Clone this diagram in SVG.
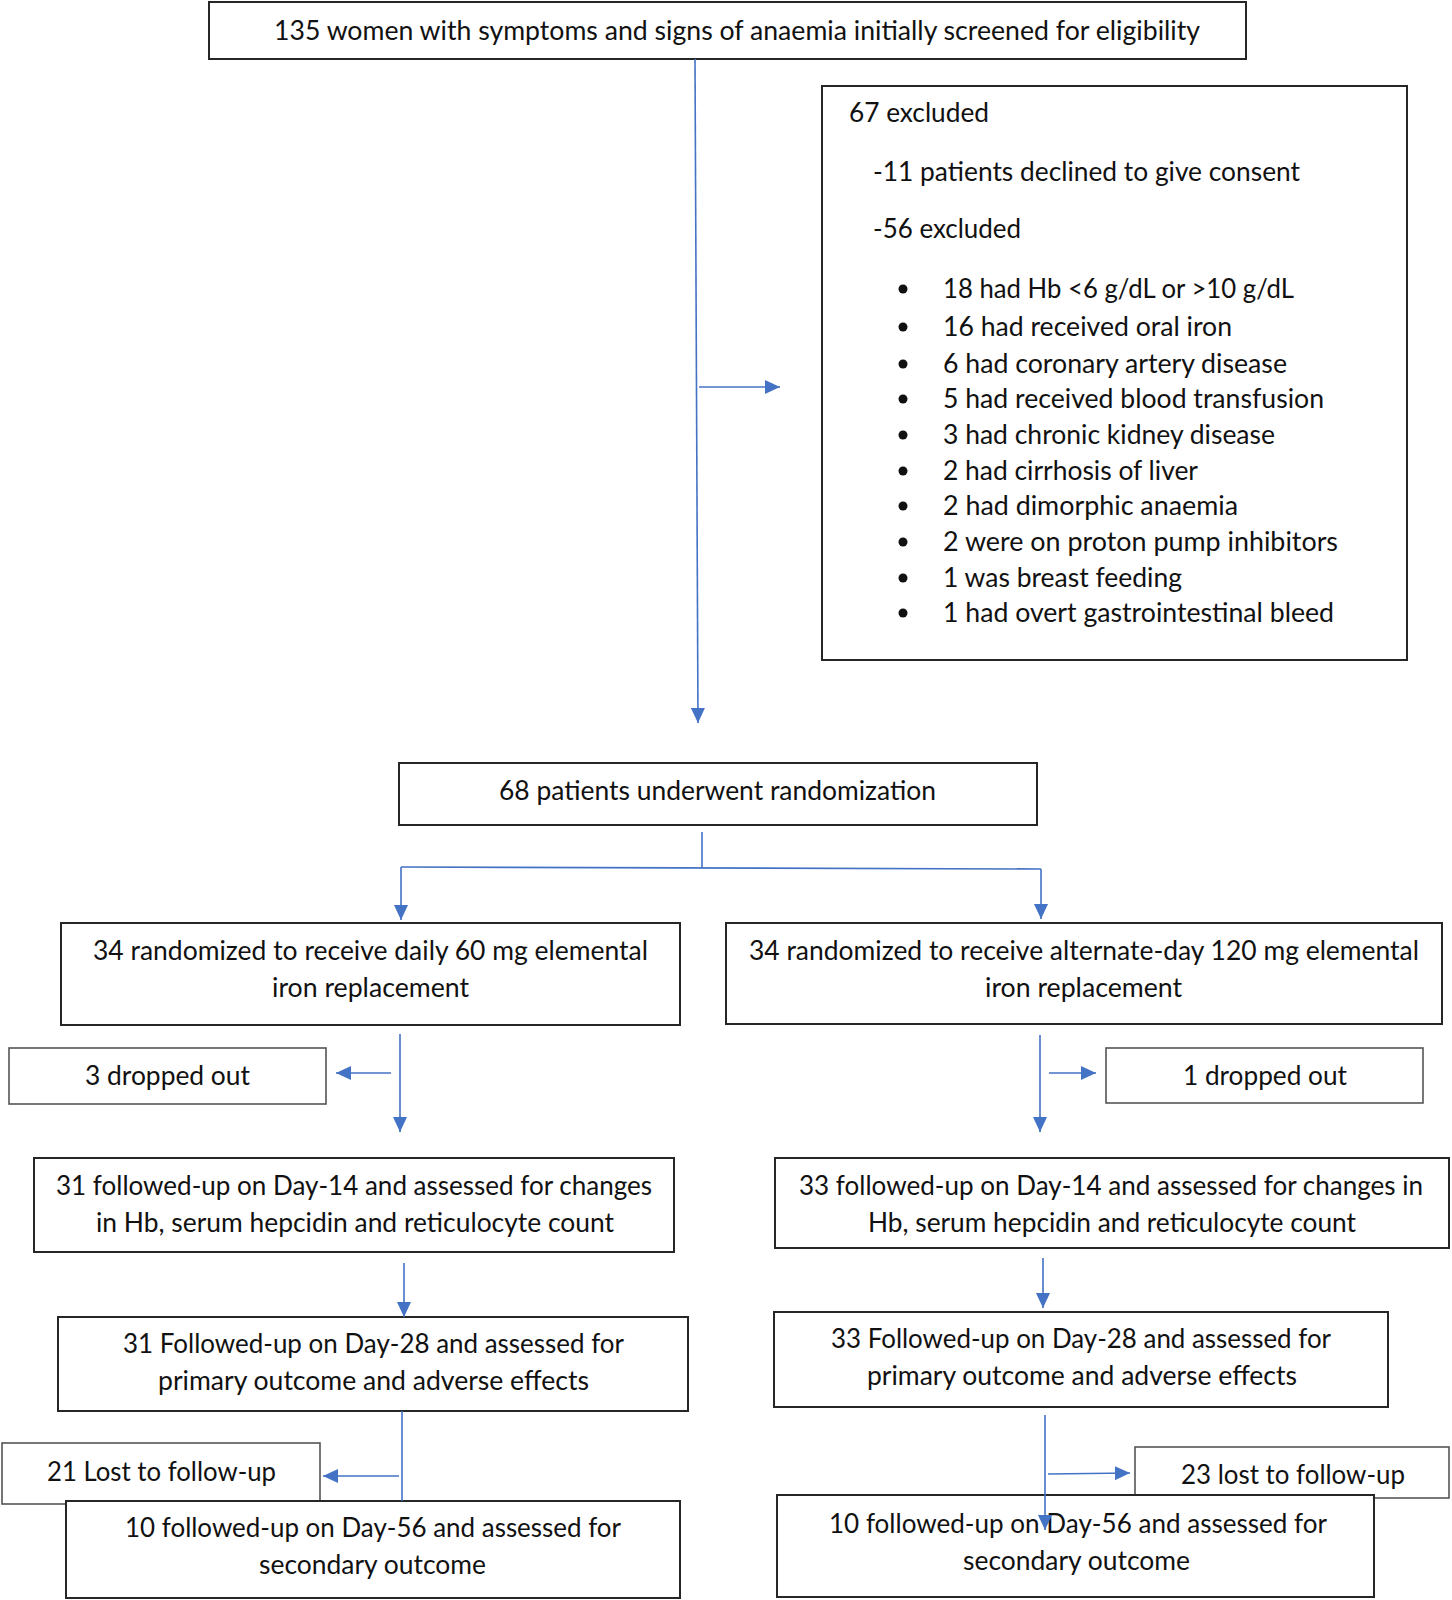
<svg xmlns="http://www.w3.org/2000/svg" width="1452" height="1600" viewBox="0 0 1452 1600">
<style>
  .bg{fill:#ffffff}
  .box{fill:#ffffff;stroke:#262626;stroke-width:2}
  .sbox{fill:#ffffff;stroke:#555555;stroke-width:1.6}
  text{font-family:Lato,"Liberation Sans",Arial,sans-serif;font-size:27px;fill:#111111}
  .c{fill:none;stroke:#4472C4;stroke-width:1.6}
  .dot{fill:#111111}
</style>
<defs>
  <marker id="ah" viewBox="0 0 10 10" refX="10" refY="5" markerWidth="15" markerHeight="14" markerUnits="userSpaceOnUse" orient="auto" preserveAspectRatio="none">
    <path d="M0,0 L10,5 L0,10 z" fill="#4472C4"/>
  </marker>
</defs>
<rect class="bg" x="0" y="0" width="1452" height="1600"/>

<g id="n-screened">
  <rect class="box" x="209" y="2" width="1037" height="57"/>
  <text x="274" y="40" textLength="926" lengthAdjust="spacingAndGlyphs">135 women with symptoms and signs of anaemia initially screened for eligibility</text>
</g>

<g id="n-excluded">
  <rect class="box" x="822" y="86" width="585" height="574"/>
  <text x="849" y="122" textLength="140" lengthAdjust="spacingAndGlyphs">67 excluded</text>
  <text x="873" y="181" textLength="427" lengthAdjust="spacingAndGlyphs">-11 patients declined to give consent</text>
  <text x="873" y="238" textLength="148" lengthAdjust="spacingAndGlyphs">-56 excluded</text>
  <circle class="dot" cx="903" cy="289" r="4.5"/>
  <text x="943" y="298" textLength="351" lengthAdjust="spacingAndGlyphs">18 had Hb &lt;6 g/dL or &gt;10 g/dL</text>
  <circle class="dot" cx="903" cy="327" r="4.5"/>
  <text x="943" y="336" textLength="289" lengthAdjust="spacingAndGlyphs">16 had received oral iron</text>
  <circle class="dot" cx="903" cy="364" r="4.5"/>
  <text x="943" y="373" textLength="344" lengthAdjust="spacingAndGlyphs">6 had coronary artery disease</text>
  <circle class="dot" cx="903" cy="399" r="4.5"/>
  <text x="943" y="408" textLength="381" lengthAdjust="spacingAndGlyphs">5 had received blood transfusion</text>
  <circle class="dot" cx="903" cy="435" r="4.5"/>
  <text x="943" y="444" textLength="332" lengthAdjust="spacingAndGlyphs">3 had chronic kidney disease</text>
  <circle class="dot" cx="903" cy="471" r="4.5"/>
  <text x="943" y="480" textLength="255" lengthAdjust="spacingAndGlyphs">2 had cirrhosis of liver</text>
  <circle class="dot" cx="903" cy="506" r="4.5"/>
  <text x="943" y="515" textLength="295" lengthAdjust="spacingAndGlyphs">2 had dimorphic anaemia</text>
  <circle class="dot" cx="903" cy="542" r="4.5"/>
  <text x="943" y="551" textLength="395" lengthAdjust="spacingAndGlyphs">2 were on proton pump inhibitors</text>
  <circle class="dot" cx="903" cy="578" r="4.5"/>
  <text x="943" y="587" textLength="239" lengthAdjust="spacingAndGlyphs">1 was breast feeding</text>
  <circle class="dot" cx="903" cy="613" r="4.5"/>
  <text x="943" y="622" textLength="391" lengthAdjust="spacingAndGlyphs">1 had overt gastrointestinal bleed</text>
</g>

<g id="n-randomized">
  <rect class="box" x="399" y="763" width="638" height="62"/>
  <text x="499" y="800" textLength="437" lengthAdjust="spacingAndGlyphs">68 patients underwent randomization</text>
</g>

<g id="n-daily">
  <rect class="box" x="61" y="923" width="619" height="102"/>
  <text x="93" y="960" textLength="555" lengthAdjust="spacingAndGlyphs">34 randomized to receive daily 60 mg elemental</text>
  <text x="272" y="997" textLength="197" lengthAdjust="spacingAndGlyphs">iron replacement</text>
</g>

<g id="n-alternate">
  <rect class="box" x="726" y="923" width="716" height="101"/>
  <text x="749" y="960" textLength="670" lengthAdjust="spacingAndGlyphs">34 randomized to receive alternate-day 120 mg elemental</text>
  <text x="985" y="997" textLength="197" lengthAdjust="spacingAndGlyphs">iron replacement</text>
</g>

<g id="n-drop-left">
  <rect class="sbox" x="9" y="1048" width="317" height="56"/>
  <text x="85" y="1085" textLength="165" lengthAdjust="spacingAndGlyphs">3 dropped out</text>
</g>

<g id="n-drop-right">
  <rect class="sbox" x="1106" y="1048" width="317" height="55"/>
  <text x="1183" y="1085" textLength="164" lengthAdjust="spacingAndGlyphs">1 dropped out</text>
</g>

<g id="n-day14-left">
  <rect class="box" x="34" y="1158" width="640" height="94"/>
  <text x="56" y="1195" textLength="596" lengthAdjust="spacingAndGlyphs">31 followed-up on Day-14 and assessed for changes</text>
  <text x="96" y="1232" textLength="518" lengthAdjust="spacingAndGlyphs">in Hb, serum hepcidin and reticulocyte count</text>
</g>

<g id="n-day14-right">
  <rect class="box" x="775" y="1158" width="674" height="90"/>
  <text x="799" y="1195" textLength="624" lengthAdjust="spacingAndGlyphs">33 followed-up on Day-14 and assessed for changes in</text>
  <text x="868" y="1232" textLength="488" lengthAdjust="spacingAndGlyphs">Hb, serum hepcidin and reticulocyte count</text>
</g>

<g id="n-day28-left">
  <rect class="box" x="58" y="1317" width="630" height="94"/>
  <text x="123" y="1353" textLength="501" lengthAdjust="spacingAndGlyphs">31 Followed-up on Day-28 and assessed for</text>
  <text x="158" y="1390" textLength="431" lengthAdjust="spacingAndGlyphs">primary outcome and adverse effects</text>
</g>

<g id="n-day28-right">
  <rect class="box" x="774" y="1312" width="614" height="95"/>
  <text x="831" y="1348" textLength="500" lengthAdjust="spacingAndGlyphs">33 Followed-up on Day-28 and assessed for</text>
  <text x="867" y="1385" textLength="430" lengthAdjust="spacingAndGlyphs">primary outcome and adverse effects</text>
</g>

<g id="n-lost-left">
  <rect class="sbox" x="2" y="1443" width="318" height="61"/>
  <text x="47" y="1481" textLength="229" lengthAdjust="spacingAndGlyphs">21 Lost to follow-up</text>
</g>

<g id="n-day56-left">
  <rect class="box" x="66" y="1501" width="614" height="97"/>
  <text x="125" y="1537" textLength="496" lengthAdjust="spacingAndGlyphs">10 followed-up on Day-56 and assessed for</text>
  <text x="259" y="1574" textLength="227" lengthAdjust="spacingAndGlyphs">secondary outcome</text>
</g>

<g id="n-lost-right">
  <rect class="sbox" x="1135" y="1447" width="314" height="51"/>
  <text x="1181" y="1484" textLength="224" lengthAdjust="spacingAndGlyphs">23 lost to follow-up</text>
</g>

<g id="n-day56-right">
  <rect class="box" x="777" y="1495" width="597" height="102"/>
  <text x="829" y="1533" textLength="498" lengthAdjust="spacingAndGlyphs">10 followed-up on Day-56 and assessed for</text>
  <text x="963" y="1570" textLength="227" lengthAdjust="spacingAndGlyphs">secondary outcome</text>
</g>

<g id="connectors">
  <line class="c" x1="695" y1="59" x2="698" y2="723" marker-end="url(#ah)"/>
  <line class="c" x1="699" y1="387" x2="780" y2="387" marker-end="url(#ah)"/>
  <line class="c" x1="702" y1="832" x2="702" y2="868"/>
  <line class="c" x1="401" y1="867" x2="1041" y2="869"/>
  <line class="c" x1="401" y1="867" x2="401" y2="920" marker-end="url(#ah)"/>
  <line class="c" x1="1041" y1="869" x2="1041" y2="919" marker-end="url(#ah)"/>
  <line class="c" x1="400" y1="1034" x2="400" y2="1132" marker-end="url(#ah)"/>
  <line class="c" x1="391" y1="1073" x2="336" y2="1073" marker-end="url(#ah)"/>
  <line class="c" x1="1040" y1="1035" x2="1040" y2="1132" marker-end="url(#ah)"/>
  <line class="c" x1="1049" y1="1073" x2="1096" y2="1073" marker-end="url(#ah)"/>
  <line class="c" x1="404" y1="1263" x2="404" y2="1317" marker-end="url(#ah)"/>
  <line class="c" x1="1043" y1="1258" x2="1043" y2="1308" marker-end="url(#ah)"/>
  <line class="c" x1="402" y1="1411" x2="402" y2="1501"/>
  <line class="c" x1="399" y1="1476" x2="323" y2="1476" marker-end="url(#ah)"/>
  <line class="c" x1="1045" y1="1415" x2="1045" y2="1530" marker-end="url(#ah)"/>
  <line class="c" x1="1048" y1="1474" x2="1130" y2="1473" marker-end="url(#ah)"/>
</g>
</svg>
